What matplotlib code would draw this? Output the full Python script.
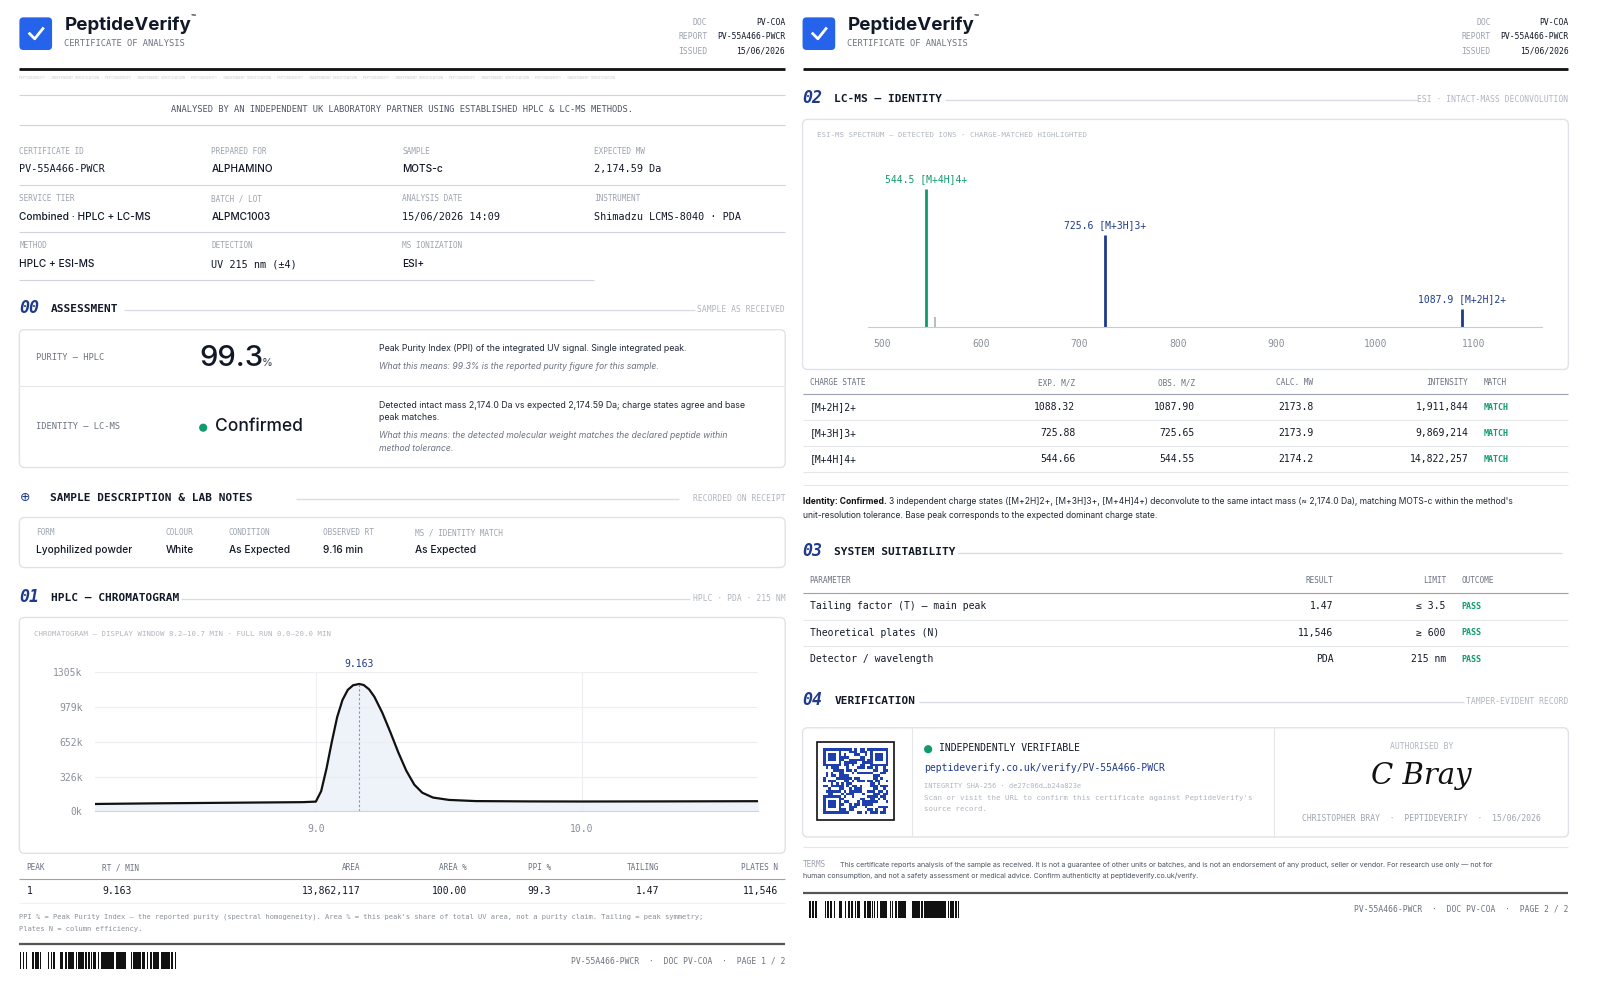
import hashlib
import numpy as np
import matplotlib
matplotlib.use("Agg")
import matplotlib.pyplot as plt
from matplotlib.patches import FancyBboxPatch, Rectangle, Circle

# ---------------- data ----------------
chrom_t = [8.17, 8.4, 8.6, 8.8, 8.95, 9.0, 9.02, 9.04, 9.06, 9.08, 9.10, 9.12, 9.14, 9.163,
           9.18, 9.20, 9.22, 9.25, 9.28, 9.31, 9.34, 9.37, 9.40, 9.44, 9.50, 9.6, 9.8, 10.0, 10.3, 10.66]
chrom_y = [70, 76, 80, 84, 87, 92, 190, 400, 650, 880, 1040, 1135, 1178, 1190,
           1180, 1140, 1070, 920, 740, 550, 380, 250, 175, 130, 108, 97, 94, 93, 94, 96]  # k
chrom_ticks = [0, 326, 652, 979, 1305]
chrom_xticks = [9.0, 10.0]
peak_rt = 9.163

ms_mz = [544.5, 554.0, 725.6, 1087.9]
ms_int = [14.822257, 1.05, 9.869214, 1.911844]  # millions
ms_col = ["#0f9b6b", "#b8bcc4", "#1e3a8a", "#1e3a8a"]
ms_lab = ["544.5 [M+4H]4+", "", "725.6 [M+3H]3+", "1087.9 [M+2H]2+"]
ms_xticks = [500, 600, 700, 800, 900, 1000, 1100]

ms_rows = [["[M+2H]2+", "1088.32", "1087.90", "2173.8", "1,911,844", "MATCH"],
           ["[M+3H]3+", "725.88", "725.65", "2173.9", "9,869,214", "MATCH"],
           ["[M+4H]4+", "544.66", "544.55", "2174.2", "14,822,257", "MATCH"]]
sys_rows = [["Tailing factor (T) — main peak", "1.47", "≤ 3.5", "PASS"],
            ["Theoretical plates (N)", "11,546", "≥ 600", "PASS"],
            ["Detector / wavelength", "PDA", "215 nm", "PASS"]]
peak_row = ["1", "9.163", "13,862,117", "100.00", "99.3", "1.47", "11,546"]

W, H = 1567, 965
fig = plt.figure(figsize=(16, 9.85), dpi=100)
fig.patch.set_facecolor("white")
ov = fig.add_axes([0, 0, 1, 1])
ov.set_xlim(0, W); ov.set_ylim(H, 0); ov.axis("off")

MONO = "DejaVu Sans Mono"
SANS = "Inter"
DARK = "#111827"; GRAY = "#9ca3af"; LG = "#d1d5db"; NAVY = "#1e3a8a"; GREEN = "#0f9b6b"

def T(x, y, s, size=7, color=DARK, fam=MONO, ha="left", va="center", **kw):
    ov.text(x, y, s, fontsize=size, color=color, family=fam, ha=ha, va=va, **kw)

def L(x0, x1, y, color=LG, lw=0.8):
    ov.plot([x0, x1], [y, y], color=color, lw=lw, solid_capstyle="butt")

def box(x0, y0, x1, y1, ec="#dfe3e8"):
    ov.add_patch(FancyBboxPatch((x0, y0), x1 - x0, y1 - y0, boxstyle="round,pad=0,rounding_size=5",
                                fc="white", ec=ec, lw=1.0))

def axes_px(x0, y0, x1, y1):
    return fig.add_axes([x0 / W, 1 - y1 / H, (x1 - x0) / W, (y1 - y0) / H])

def barcode(x0, y0, x1, y1, seed):
    bits = "".join(format(b, "08b") for b in hashlib.sha256(seed.encode()).digest() * 2)
    n = 150
    w = (x1 - x0) / n
    for i in range(n):
        if bits[i] == "1" or bits[i + 3] == "1":
            ov.add_patch(Rectangle((x0 + i * w, y0), w * (0.5 + 0.5 * int(bits[i + 1])), y1 - y0, fc="#111", ec="none"))

def section(x0, x1, y, num, title, right):
    T(x0, y, num, 12, NAVY, MONO, style="italic", weight="bold")
    T(x0 + 31, y + 1, title, 8, DARK, MONO, weight="bold")
    tw = len(title) * 6.2 + x0 + 40
    rw = len(right) * 4.6
    L(tw, x1 - rw - 6, y + 2, "#d9dde3", 1.0)
    T(x1, y + 1, right, 5.8, "#b0b6bf", MONO, ha="right")

def header(x0, x1, page):
    ov.add_patch(FancyBboxPatch((x0, 17), 32, 32, boxstyle="round,pad=0,rounding_size=4", fc="#2563eb", ec="none"))
    ov.plot([x0 + 10, x0 + 15, x0 + 23], [33, 38, 28], color="white", lw=2)
    T(x0 + 44, 25, "PeptideVerify", 13.5, DARK, SANS, weight="bold")
    T(x0 + 44 + 124, 18, "™", 5.5, DARK, SANS, weight="bold")
    T(x0 + 44, 43, "CERTIFICATE OF ANALYSIS", 6.3, "#6b7280", MONO)
    for yy, a, b in [(22, "DOC", "PV-COA"), (36, "REPORT", "PV-55A466-PWCR"), (50, "ISSUED", "15/06/2026")]:
        T(x1, yy, b, 5.8, DARK, MONO, ha="right")
        T(x1 - 76, yy, a, 5.8, GRAY, MONO, ha="right")
    L(x0, x1, 68, "#111", 2.0)
    footer_y = 941 if page == 1 else 891
    L(x0, x1, footer_y - 16, "#555", 1.6)
    barcode(x0, footer_y - 8, x0 + 156, footer_y + 8, "PV-55A466-PWCR" + str(page))
    T(x1, footer_y, f"PV-55A466-PWCR  ·  DOC PV-COA  ·  PAGE {page} / 2", 5.8, "#6b7280", MONO, ha="right")

# ================= LEFT PAGE =================
X0, X1 = 19, 769
header(X0, X1, 1)
T(X0, 76, ("PEPTIDEVERIFY · INDEPENDENT VERIFICATION · " * 14)[:300], 2.3, "#c8ccd2", MONO)
L(X0, X1, 93); L(X0, X1, 122)
T((X0 + X1) / 2, 107, "ANALYSED BY AN INDEPENDENT UK LABORATORY PARTNER USING ESTABLISHED HPLC & LC-MS METHODS.",
  6.3, "#4b5563", MONO, ha="center")

cols = [19, 207, 394, 582]
grid = [[("CERTIFICATE ID", "PV-55A466-PWCR"), ("PREPARED FOR", "ALPHAMINO"), ("SAMPLE", "MOTS-c"), ("EXPECTED MW", "2,174.59 Da")],
        [("SERVICE TIER", "Combined · HPLC + LC-MS"), ("BATCH / LOT", "ALPMC1003"), ("ANALYSIS DATE", "15/06/2026 14:09"), ("INSTRUMENT", "Shimadzu LCMS-8040 · PDA")],
        [("METHOD", "HPLC + ESI-MS"), ("DETECTION", "UV 215 nm (±4)"), ("MS IONIZATION", "ESI+")]]
for r, row in enumerate(grid):
    ly = 148 + r * 46.5
    for c, (lab, val) in enumerate(row):
        T(cols[c], ly, lab, 5.6, GRAY, MONO)
        fam = MONO if any(ch.isdigit() for ch in val) and c >= 2 or val.startswith("PV") or val.startswith("UV") else SANS
        T(cols[c], ly + 18, val, 7.3, DARK, fam, weight="medium")
    L(X0, X1 if r < 2 else 582, ly + 33)

section(X0, X1, 302, "00", "ASSESSMENT", "SAMPLE AS RECEIVED")
box(X0, 323, X1, 458)
L(X0, X1, 378, "#e5e7eb")
T(35, 350, "PURITY — HPLC", 6.3, "#6b7280", MONO)
T(195, 351, "99.3", 21, DARK, SANS, weight="medium")
T(256, 356, "%", 8, "#374151", SANS)
T(371, 341, "Peak Purity Index (PPI) of the integrated UV signal. Single integrated peak.", 6.3, "#1f2937", SANS)
T(371, 359, "What this means: 99.3% is the reported purity figure for this sample.", 6.2, "#6b7280", SANS, style="italic")
T(35, 418, "IDENTITY — LC-MS", 6.3, "#6b7280", MONO)
ov.add_patch(Circle((199, 419), 4, fc=GREEN, ec="none"))
T(211, 418, "Confirmed", 12.5, DARK, SANS, weight="medium")
T(371, 397, "Detected intact mass 2,174.0 Da vs expected 2,174.59 Da; charge states agree and base", 6.3, "#1f2937", SANS)
T(371, 409, "peak matches.", 6.3, "#1f2937", SANS)
T(371, 427, "What this means: the detected molecular weight matches the declared peptide within", 6.2, "#6b7280", SANS, style="italic")
T(371, 439, "method tolerance.", 6.2, "#6b7280", SANS, style="italic")

T(X0, 487, "⊕", 9, NAVY, "DejaVu Sans")
T(X0 + 30, 488, "SAMPLE DESCRIPTION & LAB NOTES", 8, DARK, MONO, weight="bold")
L(290, 665, 489, "#d9dde3", 1.0)
T(X1, 488, "RECORDED ON RECEIPT", 5.8, "#b0b6bf", MONO, ha="right")
box(X0, 507, X1, 556)
for x, lab, val in [(35, "FORM", "Lyophilized powder"), (162, "COLOUR", "White"), (224, "CONDITION", "As Expected"),
                    (316, "OBSERVED RT", "9.16 min"), (406, "MS / IDENTITY MATCH", "As Expected")]:
    T(x, 522, lab, 5.6, GRAY, MONO)
    T(x, 539, val, 7.3, DARK, SANS, weight="medium")

section(X0, X1, 585, "01", "HPLC — CHROMATOGRAM", "HPLC · PDA · 215 NM")
box(X0, 605, X1, 836)
T(33, 621, "CHROMATOGRAM — DISPLAY WINDOW 8.2–10.7 MIN · FULL RUN 0.0–20.0 MIN", 5.3, "#b0b6bf", MONO)

ax = axes_px(93, 658, 742, 795)
ax.set_facecolor("none")
ax.fill_between(chrom_t, chrom_y, 0, color="#eef2f9")
ax.plot(chrom_t, chrom_y, color="#111", lw=1.6, solid_joinstyle="round")
ax.axvline(peak_rt, ymax=1190 / 1305, color="#8a93a6", ls=(0, (2, 2)), lw=0.8)
ax.set_xlim(8.17, 10.66); ax.set_ylim(0, 1305)
ax.set_yticks(chrom_ticks); ax.set_yticklabels([f"{v}k" for v in chrom_ticks])
ax.set_xticks(chrom_xticks); ax.set_xticklabels([f"{v:.1f}" for v in chrom_xticks])
ax.grid(True, color="#eceef2", lw=0.8)
for s in ax.spines.values(): s.set_visible(False)
ax.spines["bottom"].set_visible(True); ax.spines["bottom"].set_color("#d1d5db")
ax.tick_params(length=0, labelsize=7, labelcolor="#8a909a", pad=9)
for lab in ax.get_xticklabels() + ax.get_yticklabels(): lab.set_family(MONO)
ax.text(peak_rt, 1305 * 1.02, f"{peak_rt:.3f}", color=NAVY, family=MONO, fontsize=7, ha="center", va="bottom")

hdr = [("PEAK", 26, "left"), ("RT / MIN", 100, "left"), ("AREA", 353, "right"), ("AREA %", 457, "right"),
       ("PPI %", 540, "right"), ("TAILING", 646, "right"), ("PLATES N", 762, "right")]
for (h, x, ha), v in zip(hdr, peak_row):
    T(x, 850, h, 5.6, "#6b7280", MONO, ha=ha)
    T(x, 873, v, 7, DARK, MONO, ha=ha)
L(X0, X1, 861, "#9ca3af"); L(X0, X1, 885, "#eef0f3")
T(X0, 898, "PPI % = Peak Purity Index — the reported purity (spectral homogeneity). Area % = this peak's share of total UV area, not a purity claim. Tailing = peak symmetry;",
  5.1, "#8a909a", MONO)
T(X0, 910, "Plates N = column efficiency.", 5.1, "#8a909a", MONO)

# ================= RIGHT PAGE =================
R0, R1 = 786, 1536
header(R0, R1, 2)
section(R0, R1, 96, "02", "LC-MS — IDENTITY", "ESI · INTACT-MASS DECONVOLUTION")
box(R0, 117, R1, 362)
T(800, 132, "ESI-MS SPECTRUM — DETECTED IONS · CHARGE-MATCHED HIGHLIGHTED", 5.3, "#b0b6bf", MONO)
ax2 = axes_px(850, 160, 1510, 320)
ax2.set_facecolor("none")
ymax = max(ms_int) * 160 / 135
for mz, it, c, lab in zip(ms_mz, ms_int, ms_col, ms_lab):
    ax2.plot([mz, mz], [0, it], color=c, lw=2.0 if lab else 1.4, solid_capstyle="butt")
    if lab:
        ax2.text(mz, it + ymax * 0.03, lab, color=c, family=MONO, fontsize=7, ha="center", va="bottom")
ax2.set_xlim(485.5, 1169); ax2.set_ylim(0, ymax)
ax2.set_xticks(ms_xticks); ax2.set_yticks([])
for s in ax2.spines.values(): s.set_visible(False)
ax2.spines["bottom"].set_visible(True); ax2.spines["bottom"].set_color("#c7ccd3")
ax2.tick_params(length=0, labelsize=7, labelcolor="#8a909a", pad=9)
for lab in ax2.get_xticklabels(): lab.set_family(MONO)

mh = [("CHARGE STATE", 793, "left"), ("EXP. M/Z", 1053, "right"), ("OBS. M/Z", 1170, "right"),
      ("CALC. MW", 1286, "right"), ("INTENSITY", 1438, "right"), ("MATCH", 1453, "left")]
for h, x, ha in mh:
    T(x, 375, h, 5.6, "#6b7280", MONO, ha=ha)
L(R0, R1, 386, "#9ca3af")
for i, row in enumerate(ms_rows):
    y = 399 + i * 25.5
    for (h, x, ha), v in zip(mh, row):
        if v == "MATCH":
            T(x, y, v, 6, GREEN, MONO, ha=ha, weight="bold")
        else:
            T(x, y, v, 7, DARK, MONO, ha=ha)
    L(R0, R1, y + 12.5, "#e5e7eb")
L(R0, R1, 475, "#e5e7eb")
T(R0, 491, "Identity: Confirmed.", 6.1, "#111", SANS, weight="bold")
T(R0 + 85, 491, "3 independent charge states ([M+2H]2+, [M+3H]3+, [M+4H]4+) deconvolute to the same intact mass (≈ 2,174.0 Da), matching MOTS-c within the method's",
  6.1, "#1f2937", SANS)
T(R0, 505, "unit-resolution tolerance. Base peak corresponds to the expected dominant charge state.", 6.1, "#1f2937", SANS)

section(R0, R1, 540, "03", "SYSTEM SUITABILITY", "")
sh = [("PARAMETER", 793, "left"), ("RESULT", 1306, "right"), ("LIMIT", 1416, "right"), ("OUTCOME", 1431, "left")]
for h, x, ha in sh:
    T(x, 569, h, 5.6, "#6b7280", MONO, ha=ha)
L(R0, R1, 581, "#9ca3af")
for i, row in enumerate(sys_rows):
    y = 594 + i * 26
    for (h, x, ha), v in zip(sh, row):
        if v == "PASS":
            T(x, y, v, 6, GREEN, MONO, ha=ha, weight="bold")
        else:
            T(x, y, v, 7, DARK, MONO, ha=ha)
    if i < 2:
        L(R0, R1, y + 13, "#e5e7eb")

section(R0, R1, 686, "04", "VERIFICATION", "TAMPER-EVIDENT RECORD")
box(R0, 713, R1, 820)
ov.plot([893, 893], [713, 820], color="#e5e7eb", lw=0.8)
ov.plot([1248, 1248], [713, 820], color="#e5e7eb", lw=0.8)
# QR code
ov.add_patch(Rectangle((800, 727), 76, 76, fc="white", ec="#111", lw=1.2))
qbits = "".join(format(b, "08b") for b in hashlib.sha256(b"peptideverify.co.uk/verify/PV-55A466-PWCR").digest() * 4)
N = 25; cs = 64 / N; qx, qy = 806, 733
k = 0
for i in range(N):
    for j in range(N):
        finder = (i < 7 and j < 7) or (i < 7 and j >= N - 7) or (i >= N - 7 and j < 7)
        if finder:
            ii = i - (N - 7) if i >= N - 7 else i
            jj = j - (N - 7) if j >= N - 7 else j
            on = ii in (0, 6) or jj in (0, 6) or (2 <= ii <= 4 and 2 <= jj <= 4)
        else:
            on = qbits[k % len(qbits)] == "1"; k += 1
        if on:
            ov.add_patch(Rectangle((qx + j * cs, qy + i * cs), cs, cs, fc="#1e40af", ec="none"))
ov.add_patch(Circle((909, 734), 4, fc=GREEN, ec="none"))
T(920, 733, "INDEPENDENTLY VERIFIABLE", 7, DARK, MONO, weight="medium")
T(905, 752, "peptideverify.co.uk/verify/PV-55A466-PWCR", 7, NAVY, MONO)
T(905, 770, "INTEGRITY SHA-256 · de27c06d…b24a823e", 5, "#b0b6bf", MONO)
T(905, 782, "Scan or visit the URL to confirm this certificate against PeptideVerify's", 5.3, "#b0b6bf", MONO)
T(905, 793, "source record.", 5.3, "#b0b6bf", MONO)
T(1392, 731, "AUTHORISED BY", 5.8, "#b0b6bf", MONO, ha="center")
T(1392, 760, "C Bray", 21, "#111", "DejaVu Serif", ha="center", style="italic")
T(1392, 801, "CHRISTOPHER BRAY  ·  PEPTIDEVERIFY  ·  15/06/2026", 5.8, "#9ca3af", MONO, ha="center")
L(R0, R1, 830, "#e5e7eb")
T(R0, 847, "TERMS", 5.6, "#9ca3af", MONO)
T(R0 + 37, 847, "This certificate reports analysis of the sample as received. It is not a guarantee of other units or batches, and is not an endorsement of any product, seller or vendor. For research use only — not for",
  5.1, "#4b5563", SANS)
T(R0, 858, "human consumption, and not a safety assessment or medical advice. Confirm authenticity at peptideverify.co.uk/verify.", 5.1, "#4b5563", SANS)

fig.savefig("out.png", dpi=100, facecolor="white")
